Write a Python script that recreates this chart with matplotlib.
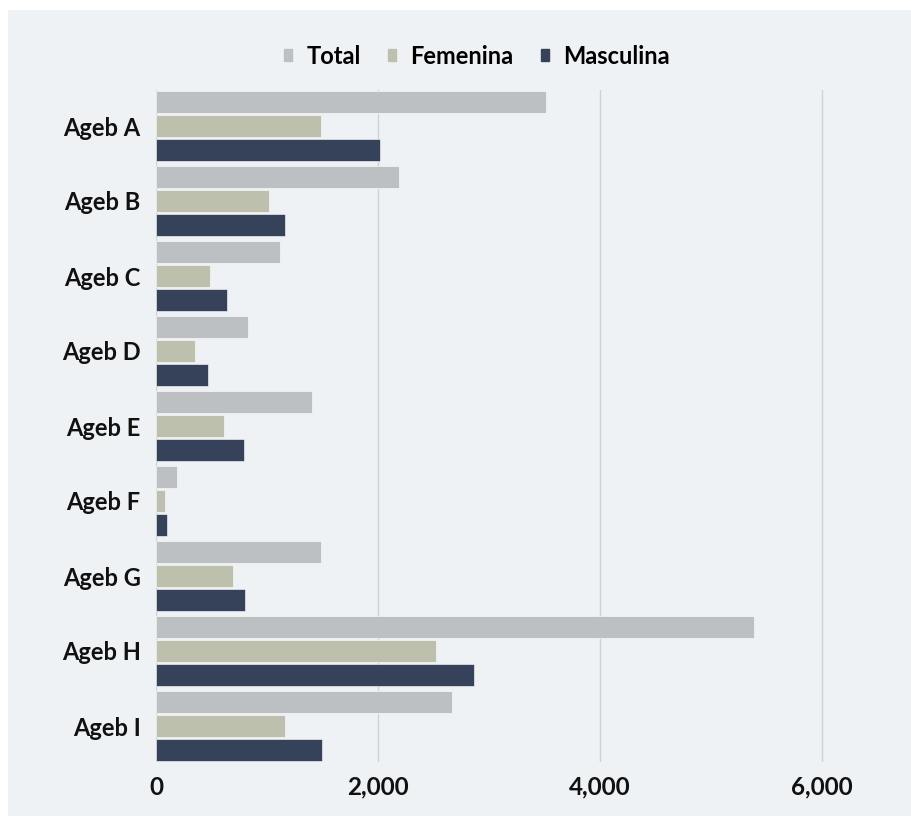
import matplotlib.pyplot as plt
import matplotlib.patches as mpatches
import matplotlib.ticker as mticker
import numpy as np

categories = ['Ageb A', 'Ageb B', 'Ageb C', 'Ageb D', 'Ageb E',
              'Ageb F', 'Ageb G', 'Ageb H', 'Ageb I']
total = [3510, 2190, 1120, 830, 1405, 190, 1490, 5390, 2665]
femenina = [1490, 1020, 485, 350, 615, 80, 695, 2525, 1160]
masculina = [2020, 1165, 640, 470, 795, 100, 805, 2865, 1495]
series_names = ['Total', 'Femenina', 'Masculina']
colors = ['#bdc0c3', '#bcc0ad', '#354259']
xticks = [0, 2000, 4000, 6000]

plt.rcParams['font.family'] = ['Lato', 'DejaVu Sans']

fig = plt.figure(figsize=(9.12, 8.16), dpi=100, facecolor='white')
# light panel behind the chart
panel = mpatches.Rectangle((8 / 912, 0), 1, 1 - 10 / 816,
                           transform=fig.transFigure, facecolor='#eff2f4',
                           edgecolor='none', zorder=-5)
fig.patches.append(panel)

ax = fig.add_axes([156 / 912, 1 - 762 / 816, 0.962 - 156 / 912, (762 - 90) / 816])
ax.set_facecolor('none')

y = np.arange(len(categories))
h = 0.30
step = 0.32
for i, (vals, name) in enumerate(zip([total, femenina, masculina], series_names)):
    ax.barh(y + (i - 1) * step, vals, height=h, color=colors[i], label=name,
            edgecolor='white', linewidth=0.4, zorder=3)

ax.set_xlim(0, 6500)
ax.set_ylim(len(categories) - 1 + 0.48, -0.48)
ax.set_yticks(y)
ax.set_yticklabels(categories, fontsize=17, fontweight='bold', color='#111111')
ax.set_xticks(xticks)
ax.xaxis.set_major_formatter(mticker.FuncFormatter(lambda v, p: f'{int(v):,}'))
for lab in ax.get_xticklabels():
    lab.set_fontsize(17.5)
    lab.set_fontweight('bold')
    lab.set_color('#111111')
ax.tick_params(axis='both', length=0)
ax.tick_params(axis='x', pad=10)
ax.tick_params(axis='y', pad=11)
ax.grid(axis='x', color='#cfd3d7', linewidth=1, zorder=0)
for s in ax.spines.values():
    s.set_visible(False)

handles = [mpatches.Patch(color=c) for c in colors]
fig.legend(handles, series_names, loc='center', bbox_to_anchor=(477 / 912, 1 - 56 / 816),
           ncol=3, frameon=False, handlelength=0.35, handleheight=0.35,
           handletextpad=0.6, columnspacing=1.15,
           prop={'size': 17, 'weight': 'bold'})

fig.savefig('out.png', dpi=100, facecolor='white')
